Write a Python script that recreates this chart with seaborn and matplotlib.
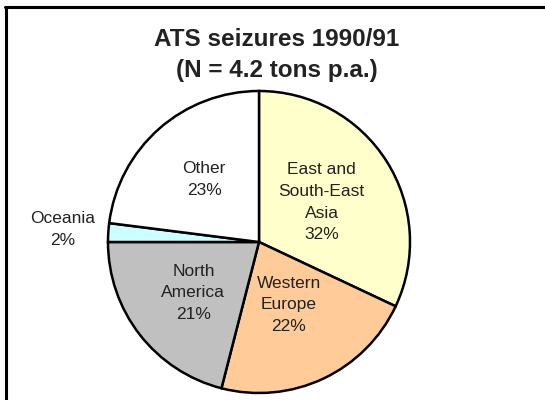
import matplotlib
matplotlib.use("Agg")
import matplotlib.pyplot as plt
import seaborn as sns
import numpy as np
from matplotlib.lines import Line2D

# data
regions = ["East and\nSouth-East\nAsia", "Western\nEurope", "North\nAmerica", "Oceania", "Other"]
shares = [32, 22, 21, 2, 23]
colors = ["#FFFFCC", "#FFCC99", "#C0C0C0", "#CCFFFF", "#FFFFFF"]
label_radius = [0.49, 0.46, 0.55, 1.3, 0.55]

sns.set_theme(style="white")
plt.rcParams["font.family"] = ["Liberation Sans", "DejaVu Sans"]

fig = plt.figure(figsize=(5.45, 4.0), dpi=100)
ax = fig.add_axes([(259 - 151) / 545, (400 - 242 - 151) / 400, 302 / 545, 302 / 400])

wedges, _ = ax.pie(
    shares,
    colors=colors,
    startangle=90,
    counterclock=False,
    radius=1.0,
    wedgeprops={"edgecolor": "black", "linewidth": 1.8},
)
ax.set_xlim(-1, 1)
ax.set_ylim(-1, 1)
ax.set_aspect("equal")
ax.axis("off")

for w, name, pct, r in zip(wedges, regions, shares, label_radius):
    mid = np.deg2rad((w.theta1 + w.theta2) / 2)
    ax.text(r * np.cos(mid), r * np.sin(mid), f"{name}\n{pct}%",
            ha="center", va="center", fontsize=12.5, color="#222222",
            linespacing=1.55, clip_on=False)

fig.text(277 / 545, 1 - 40 / 400, "ATS seizures 1990/91", ha="center", va="center",
         fontsize=17.5, fontweight="bold", color="#222222")
fig.text(277 / 545, 1 - 70 / 400, "(N = 4.2 tons p.a.)", ha="center", va="center",
         fontsize=17.5, fontweight="bold", color="#222222")

# frame lines on top and left
fig.add_artist(Line2D([5 / 545, 1], [1 - 7 / 400, 1 - 7 / 400], color="black", linewidth=2.2))
fig.add_artist(Line2D([6 / 545, 6 / 545], [0, 1 - 7 / 400], color="black", linewidth=2.2))

fig.savefig("out.png", dpi=100)
